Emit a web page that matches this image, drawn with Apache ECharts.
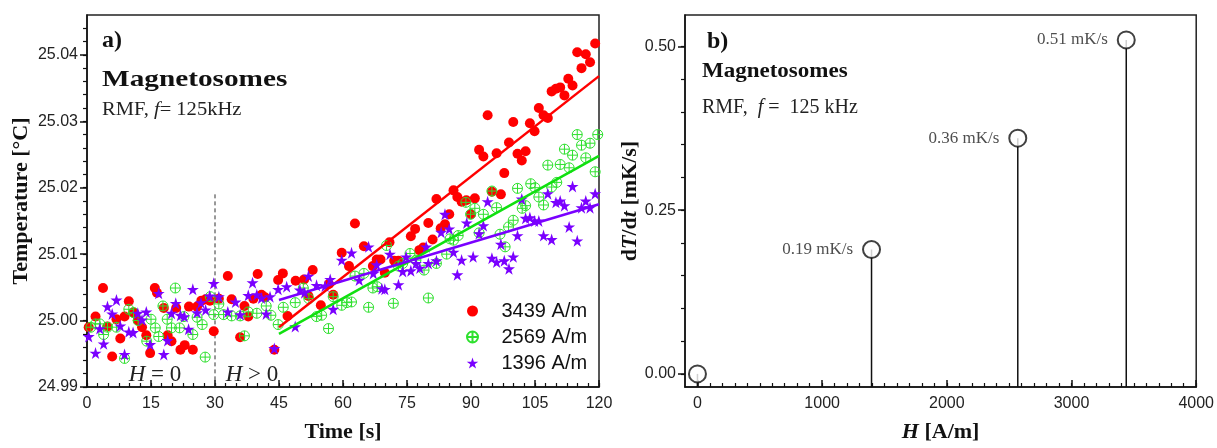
<!DOCTYPE html>
<html><head><meta charset="utf-8">
<script src="https://cdn.jsdelivr.net/npm/echarts@6/dist/echarts.min.js"></script>
<style>html,body{margin:0;padding:0;background:#fff}#c{width:1217px;height:448px}</style>
</head><body><div id="c"></div>
<script>
// ---------- data ----------
const timeTicks = [0, 15, 30, 45, 60, 75, 90, 105, 120];
const tempTicks = [24.99, 25.00, 25.01, 25.02, 25.03, 25.04];
const fieldTicks = [0, 1000, 2000, 3000, 4000];
const rateTicks = [0, 0.25, 0.5];
const seriesNames = ['3439 A/m', '2569 A/m', '1396 A/m'];

const red3439 = [[0.4,24.999],[2,25.0006],[3.75,25.0049],[4.8,24.9991],[5.9,24.9946],[6.9,25.0002],[7.8,24.9973],[8.8,25.0006],[9.8,25.0029],[10.9,25.0012],[11.9,25.000],[12.9,24.999],[13.9,24.9978],[14.8,24.9951],[15.9,25.0049],[16.4,25.0042],[18,25.0019],[18.9,24.9978],[19.8,24.9969],[20.9,25.0019],[21.9,24.9956],[22.9,24.9963],[23.9,25.0021],[24.8,24.9956],[25.8,25.0021],[26.8,25.003],[27.8,25.0032],[28.8,25.003],[29.7,24.9984],[30.9,25.0033],[33,25.0067],[33.9,25.0032],[35.9,24.9975],[36.9,25.0022],[37.8,25.0006],[39,25.0033],[40,25.007],[40.9,25.0039],[41.7,25.0035],[43.9,24.9956],[44.8,25.0061],[45.9,25.0071],[47,25.0007],[48.9,25.006],[50.9,25.0062],[51.9,25.0037],[52.9,25.0076],[54.8,25.0023],[56.7,25.0055],[57.7,25.0039],[59.7,25.0102],[61.4,25.0082],[62.8,25.0146],[64.9,25.0112],[67,25.0082],[67.9,25.0092],[68.8,25.0092],[69.8,25.0072],[70.9,25.0118],[72,25.009],[73,25.009],[75.9,25.0127],[76.9,25.0138],[77.9,25.0106],[78.8,25.011],[80,25.0147],[81,25.0122],[81.9,25.0183],[82.9,25.0139],[83.9,25.0145],[84.9,25.016],[85.9,25.0196],[86.8,25.0186],[87.8,25.0179],[88.9,25.0181],[90,25.016],[90.9,25.0184],[91.9,25.0257],[92.9,25.0247],[93.9,25.0309],[94.9,25.0194],[96,25.0252],[97,25.019],[97.8,25.0222],[98.9,25.0268],[99.9,25.0299],[100.9,25.0251],[101.9,25.0241],[102.8,25.0255],[103.8,25.0297],[104.9,25.0285],[105.9,25.032],[107,25.0309],[108,25.0305],[108.9,25.0345],[109.9,25.0349],[110.9,25.0351],[111.9,25.0339],[112.8,25.0364],[113.8,25.0354],[114.9,25.0404],[115.9,25.038],[116.9,25.0401],[117.9,25.0389],[119.1,25.0417]];

const green2569 = [[0.9,24.999],[2,24.9995],[3,24.9995],[3.9,24.9979],[4.8,24.999],[6.9,24.999],[8.8,24.9943],[9.8,25.0017],[10.9,25.0012],[12,25.000],[14,24.9969],[15,25.0002],[16,24.9989],[16.8,24.9976],[17.8,25.0022],[18.8,25.0002],[19.8,24.9989],[20.7,25.0049],[21.7,24.9989],[22.7,25.0006],[24.8,24.9979],[25.8,25.0005],[27,24.9994],[27.7,24.9945],[28.9,25.0036],[29.7,25.0009],[30.9,25.0025],[32,25.0009],[33.9,25.0007],[35.9,25.0007],[36.9,24.9977],[37.8,25.0013],[39.8,25.0011],[42,25.0022],[43.1,25.0008],[44.8,24.9994],[46,25.002],[48.8,25.0027],[50.7,25.0049],[52,25.0033],[53.8,25.0006],[55,25.0008],[56.6,24.9988],[57.7,25.0036],[59.7,25.0023],[60.9,25.0027],[62,25.0028],[62.8,25.0067],[64.9,25.0071],[66,25.002],[67,25.0049],[68,25.0051],[70.2,25.0113],[71.8,25.0026],[73,25.0082],[74,25.0086],[75.7,25.0101],[77.1,25.0091],[79,25.0076],[80,25.0034],[81.9,25.0086],[84.3,25.01],[85.1,25.0123],[85.9,25.0121],[87,25.0128],[88.8,25.0178],[89.9,25.016],[90.9,25.0169],[91.9,25.0132],[92.9,25.016],[94.9,25.0195],[96,25.017],[96.8,25.013],[98,25.0111],[98.8,25.0141],[99.9,25.0151],[100.9,25.0199],[102,25.0169],[102.8,25.0173],[104,25.0206],[105,25.02],[105.9,25.0186],[107,25.0174],[108,25.0234],[108.9,25.0201],[110.1,25.0208],[110.9,25.0235],[111.9,25.0258],[113,25.023],[113.8,25.0249],[114.9,25.028],[115.9,25.0264],[116.9,25.0245],[117.9,25.0267],[119.1,25.0224],[119.7,25.028]];

const purple1396 = [[0.4,24.9976],[2,24.9951],[3,24.9988],[3.9,24.9965],[4.8,25.0021],[5.9,25.001],[6.9,25.0031],[7.8,24.9992],[8.8,24.9949],[9.8,24.9983],[10.8,24.9982],[11.9,25.0011],[12.9,25.0001],[13.9,25.0013],[14.8,24.9964],[16.8,25.0041],[18,24.9949],[18.9,24.997],[19.8,25.0011],[20.8,25.0026],[21.9,25.0008],[22.8,25.0006],[23.8,24.9987],[24.8,25.0047],[25.8,25.0012],[26.7,25.0027],[27.8,25.0016],[28.75,25.0037],[29.7,25.0056],[30.9,25.0036],[33,25.0013],[34.8,25.0028],[35.9,25.0009],[37.8,25.0038],[38.8,25.0057],[39.8,25.0039],[40.9,25.0034],[42,25.001],[42.9,25.0036],[43.9,24.9958],[44.8,25.0047],[46.8,25.0051],[48.8,24.9991],[49.9,25.0046],[51,25.0042],[51.9,25.0067],[53.8,25.0053],[55.8,25.0052],[57,25.0062],[57.7,25.0017],[59.7,25.0091],[62,25.0102],[63.8,25.0061],[66,25.0111],[67.1,25.0071],[67.9,25.0084],[69.1,25.0048],[69.8,25.0047],[71,25.01],[73,25.0054],[74,25.0074],[74.8,25.0096],[75.9,25.0075],[77.1,25.0086],[78,25.0079],[79.5,25.0111],[80,25.0086],[81.9,25.009],[83,25.0133],[83.9,25.016],[84.9,25.0138],[85.9,25.0103],[86.8,25.0069],[87.8,25.0091],[89,25.0147],[90.5,25.0096],[91.9,25.0131],[92.9,25.0143],[93.9,25.0179],[94.9,25.0094],[96,25.0088],[97,25.0115],[97.8,25.009],[98.9,25.0078],[99.9,25.0096],[100.9,25.0128],[101.9,25.0183],[102.8,25.0154],[103.8,25.0155],[104.9,25.015],[105.9,25.015],[107,25.0128],[108,25.0191],[108.9,25.0122],[109.9,25.0178],[110.9,25.018],[111.9,25.0173],[113,25.0141],[113.8,25.0202],[114.9,25.012],[115.9,25.017],[116.9,25.018],[117.9,25.017],[119.1,25.0191]];

const fit3439 = [[45, 24.999], [120, 25.0368]];
const fit2569 = [[45, 24.998], [120, 25.0248]];
const fit1396 = [[45, 25.0031], [120, 25.0175]];
const fieldOnMarker = [[30, 25.019], [30, 24.99]];

const fieldH = [0, 1396, 2569, 3439];
const rateDTdt = [0, 0.19, 0.36, 0.51];

// ---------- helpers ----------
function steps(a, b, s) { const r = []; for (let v = a; v <= b + 1e-9; v += s) r.push(+v.toFixed(6)); return r; }
const timeMinor = steps(0, 120, 2.5);
const tempMinor = steps(24.99, 25.045, 0.002);
const fieldMinor = steps(0, 4000, 100);
const rateMinor = steps(0, 0.54, 0.05);

const SERIF = '"Liberation Serif","Times New Roman",serif';
const SANS = '"Liberation Sans",Arial,sans-serif';
const RED = '#ff0000', GREEN = '#2ee02e', GREENLINE = '#10e010', PURPLE = '#7a00ff';
const CIRCLE_PLUS = 'path://M10,0 C15.5,0 20,4.5 20,10 C20,15.5 15.5,20 10,20 C4.5,20 0,15.5 0,10 C0,4.5 4.5,0 10,0 Z M0,10 L20,10 M10,0 L10,20';
const STAR = 'path://M10,0 L12.25,6.91 L19.51,6.91 L13.63,11.18 L15.88,18.09 L10,13.82 L4.12,18.09 L6.37,11.18 L0.49,6.91 L7.75,6.91 Z';

const tempMin = 24.99, tempMax = 25.046;
const hMin = -100, hMax = 4000;
const rMin = -0.02, rMax = 0.548;

function majorX(grid, min, max, ticks, name, gap, fmt) {
  return {
    type: 'value', gridIndex: grid, min, max, position: 'bottom',
    axisLine: { show: true, onZero: false, lineStyle: { color: '#111', width: 1.5 } },
    axisTick: { show: true, inside: true, length: 7, customValues: ticks, lineStyle: { color: '#111', width: 1.5 } },
    axisLabel: { show: true, customValues: ticks, fontFamily: SANS, fontSize: 16, color: '#222', margin: 9, formatter: fmt },
    splitLine: { show: false },
    name, nameLocation: 'middle', nameGap: gap,
    nameTextStyle: { fontFamily: SERIF, fontWeight: 'bold', fontSize: 22, color: '#111',
      rich: { b: { fontFamily: SERIF, fontWeight: 'bold', fontSize: 22, color: '#111' },
              bi: { fontFamily: SERIF, fontWeight: 'bold', fontStyle: 'italic', fontSize: 22, color: '#111' } } }
  };
}
function minorX(grid, min, max, ticks) {
  return {
    type: 'value', gridIndex: grid, min, max, position: 'bottom',
    axisLine: { show: false, onZero: false },
    axisTick: { show: true, inside: true, length: 4, customValues: ticks, lineStyle: { color: '#111', width: 1.2 } },
    axisLabel: { show: false }, splitLine: { show: false }
  };
}
function majorY(grid, min, max, ticks, name, gap, fmt) {
  return {
    type: 'value', gridIndex: grid, min, max, position: 'left',
    axisLine: { show: true, onZero: false, lineStyle: { color: '#111', width: 1.5 } },
    axisTick: { show: true, inside: false, length: 7, customValues: ticks, lineStyle: { color: '#111', width: 1.5 } },
    axisLabel: { show: true, customValues: ticks, fontFamily: SANS, fontSize: 16, color: '#222', margin: 9, formatter: fmt },
    splitLine: { show: false },
    name, nameLocation: 'middle', nameGap: gap,
    nameTextStyle: { fontFamily: SERIF, fontWeight: 'bold', fontSize: 22, color: '#111',
      rich: { b: { fontFamily: SERIF, fontWeight: 'bold', fontSize: 22, color: '#111' },
              bi: { fontFamily: SERIF, fontWeight: 'bold', fontStyle: 'italic', fontSize: 22, color: '#111' } } }
  };
}
function minorY(grid, min, max, ticks) {
  return {
    type: 'value', gridIndex: grid, min, max, position: 'left',
    axisLine: { show: false, onZero: false },
    axisTick: { show: true, inside: false, length: 4, customValues: ticks, lineStyle: { color: '#111', width: 1.2 } },
    axisLabel: { show: false }, splitLine: { show: false }
  };
}

const chart = echarts.init(document.getElementById('c'), null, { renderer: 'canvas' });

const option = {
  animation: false,
  backgroundColor: '#fff',
  grid: [
    { left: 87, top: 15, width: 512, height: 377, show: true, borderColor: '#222', borderWidth: 1.5, backgroundColor: 'transparent' },
    { left: 685, top: 15, width: 513, height: 377, show: true, borderColor: '#222', borderWidth: 1.5, backgroundColor: 'transparent' }
  ],
  xAxis: [
    majorX(0, 0, 120, timeTicks, 'Time [s]', 34, v => String(v)),
    minorX(0, 0, 120, timeMinor),
    majorX(1, hMin, hMax, fieldTicks, '{bi|H}{b| [A/m]}', 34, v => String(v)),
    minorX(1, hMin, hMax, fieldMinor)
  ],
  yAxis: [
    majorY(0, tempMin, tempMax, tempTicks, 'Temperature [°C]', 55, v => v.toFixed(2)),
    minorY(0, tempMin, tempMax, tempMinor),
    majorY(1, rMin, rMax, rateTicks, '{b|d}{bi|T}{b|/d}{bi|t}{b| [mK/s]}', 40, v => v.toFixed(2)),
    minorY(1, rMin, rMax, rateMinor)
  ],
  legend: {
    orient: 'vertical', left: 461, top: 296, itemWidth: 48, itemHeight: 11, itemGap: 6,
    textStyle: { fontFamily: SANS, fontSize: 20, color: '#111', lineHeight: 20 },
    data: [
      { name: seriesNames[0], icon: 'circle' },
      { name: seriesNames[1], icon: CIRCLE_PLUS },
      { name: seriesNames[2], icon: STAR }
    ]
  },
  series: [
    { type: 'line', xAxisIndex: 0, yAxisIndex: 0, data: fieldOnMarker, symbol: 'none', silent: true,
      lineStyle: { color: '#333', width: 1, type: [4, 3] }, z: 1 },
    { name: seriesNames[0], type: 'scatter', xAxisIndex: 0, yAxisIndex: 0, data: red3439,
      symbol: 'circle', symbolSize: 10, itemStyle: { color: RED, opacity: 1 }, z: 2 },
    { name: seriesNames[1], type: 'scatter', xAxisIndex: 0, yAxisIndex: 0, data: green2569,
      symbol: CIRCLE_PLUS, symbolSize: 10, itemStyle: { color: 'transparent', borderColor: GREEN, borderWidth: 1, opacity: 1 }, z: 3 },
    { name: seriesNames[2], type: 'scatter', xAxisIndex: 0, yAxisIndex: 0, data: purple1396,
      symbol: STAR, symbolSize: 12, itemStyle: { color: PURPLE, opacity: 1 }, z: 4 },
    { name: 'fit3439', type: 'line', xAxisIndex: 0, yAxisIndex: 0, data: fit3439, symbol: 'none',
      lineStyle: { color: RED, width: 2.5 }, z: 5 },
    { name: 'fit2569', type: 'line', xAxisIndex: 0, yAxisIndex: 0, data: fit2569, symbol: 'none',
      lineStyle: { color: GREENLINE, width: 2.5 }, z: 5 },
    { name: 'fit1396', type: 'line', xAxisIndex: 0, yAxisIndex: 0, data: fit1396, symbol: 'none',
      lineStyle: { color: PURPLE, width: 2.5 }, z: 5 },
    { type: 'custom', xAxisIndex: 2, yAxisIndex: 2, z: 2,
      data: fieldH.map((h, i) => [h, rateDTdt[i]]),
      renderItem: (params, api) => {
        const top = api.coord([api.value(0), api.value(1)]);
        const bottom = api.coord([api.value(0), rMin]);
        return { type: 'line', shape: { x1: top[0], y1: top[1], x2: bottom[0], y2: bottom[1] },
          style: { stroke: '#111', lineWidth: 1.5 } };
      } },
    { type: 'scatter', xAxisIndex: 2, yAxisIndex: 2, z: 3,
      data: fieldH.map((h, i) => [h, rateDTdt[i]]),
      symbol: 'emptyCircle', symbolSize: 17,
      itemStyle: { color: '#111', borderColor: '#111', borderWidth: 1.5 },
      label: { show: true, position: 'left', distance: 9, fontFamily: SERIF, fontSize: 17, color: '#222',
        formatter: p => p.value[1] > 0 ? p.value[1].toFixed(2) + ' mK/s' : '' } }
  ],
  graphic: [
    { type: 'text', x: 102, y: 41, style: { text: 'a)', font: 'bold 24px ' + SERIF, fill: '#111', textVerticalAlign: 'middle' } },
    { type: 'text', x: 102, y: 80, scaleX: 1.22, style: { text: 'Magnetosomes', font: 'bold 24px ' + SERIF, fill: '#111', textVerticalAlign: 'middle' } },
    { type: 'text', x: 102, y: 110, scaleX: 1.08, style: { text: '{n|RMF, }{i|f}{n|= 125kHz}', fill: '#111', textVerticalAlign: 'middle',
        rich: { n: { fontFamily: SERIF, fontSize: 19, fill: '#222' }, i: { fontFamily: SERIF, fontStyle: 'italic', fontSize: 19, fill: '#222' } } } },
    { type: 'text', x: 155, y: 375, style: { text: '{i|H}{n| = 0}', textAlign: 'center', textVerticalAlign: 'middle',
        rich: { n: { fontFamily: SERIF, fontSize: 23, fill: '#222' }, i: { fontFamily: SERIF, fontStyle: 'italic', fontSize: 23, fill: '#222' } } } },
    { type: 'text', x: 252, y: 375, style: { text: '{i|H}{n| > 0}', textAlign: 'center', textVerticalAlign: 'middle',
        rich: { n: { fontFamily: SERIF, fontSize: 23, fill: '#222' }, i: { fontFamily: SERIF, fontStyle: 'italic', fontSize: 23, fill: '#222' } } } },
    { type: 'text', x: 707, y: 42, style: { text: 'b)', font: 'bold 24px ' + SERIF, fill: '#111', textVerticalAlign: 'middle' } },
    { type: 'text', x: 702, y: 72, scaleX: 1.15, style: { text: 'Magnetosomes', font: 'bold 20px ' + SERIF, fill: '#111', textVerticalAlign: 'middle' } },
    { type: 'text', x: 702, y: 108, style: { text: '{n|RMF,  }{i|f}{n| =  125 kHz}', fill: '#111', textVerticalAlign: 'middle',
        rich: { n: { fontFamily: SERIF, fontSize: 20, fill: '#222' }, i: { fontFamily: SERIF, fontStyle: 'italic', fontSize: 20, fill: '#222' } } } }
  ]
};
chart.setOption(option);
</script>
</body></html>
